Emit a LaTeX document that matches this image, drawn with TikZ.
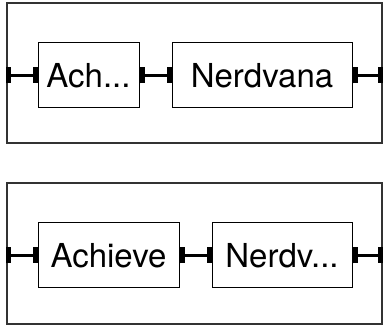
\documentclass[tikz,border=0pt]{standalone}
\usepackage{fontspec}
\setmainfont{TeX Gyre Heros}
\usetikzlibrary{arrows.meta, positioning}

\begin{document}
\begin{tikzpicture}[
  x=1pt, y=1pt,
  frame/.style={draw=black!80, line width=1.3pt, minimum width=375pt, minimum height=140pt, inner sep=0pt},
  item/.style={draw, line width=1pt, minimum height=65pt, inner sep=0pt, font=\fontsize{33}{38}\selectfont},
  link/.style={line width=3.2pt, {Bar[width=16pt, line width=5pt]}-{Bar[width=16pt, line width=5pt]}}
  ]
  \useasboundingbox (0,0) rectangle (386,327);
  % truncated first
  \node[frame] (top) at (194.5,254) {};
  \node[item, minimum width=101pt] (ach) at (88.5,251.5) {Ach...};
  \node[item, minimum width=180pt, right=32pt of ach] (nerd) {Nerdvana};
  \draw[link] (top.west |- ach.west) -- (ach.west);
  \draw[link] (ach.east) -- (nerd.west);
  \draw[link] (nerd.east) -- (top.east |- nerd.east);
  % truncated second
  \node[frame, minimum height=141pt] (bot) at (194.5,73.5) {};
  \node[item, minimum width=141pt] (achieve) at (108.5,71.5) {Achieve};
  \node[item, minimum width=140pt, right=32pt of achieve] (nerdv) {Nerdv...};
  \draw[link] (bot.west |- achieve.west) -- (achieve.west);
  \draw[link] (achieve.east) -- (nerdv.west);
  \draw[link] (nerdv.east) -- (bot.east |- nerdv.east);
\end{tikzpicture}
\end{document}
